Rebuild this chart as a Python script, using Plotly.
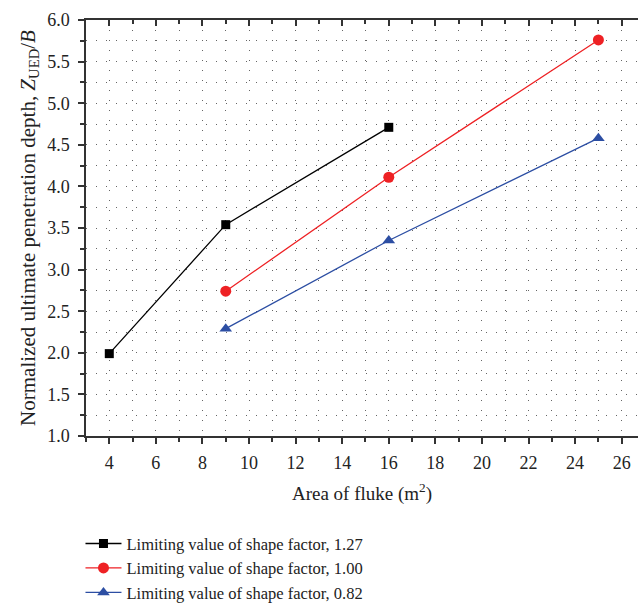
import plotly.graph_objects as go

x_127 = [4, 9, 16]
y_127 = [1.99, 3.54, 4.71]
x_100 = [9, 16, 25]
y_100 = [2.74, 4.11, 5.76]
x_082 = [9, 16, 25]
y_082 = [2.29, 3.35, 4.58]
names = ["Limiting value of shape factor, 1.27",
         "Limiting value of shape factor, 1.00",
         "Limiting value of shape factor, 0.82"]

FONT = "Liberation Serif"
fig = go.Figure()
fig.add_trace(go.Scatter(x=x_127, y=y_127, name=names[0], mode="lines+markers",
                         line=dict(color="black", width=1.3),
                         marker=dict(symbol="square", size=9, color="black")))
fig.add_trace(go.Scatter(x=x_100, y=y_100, name=names[1], mode="lines+markers",
                         line=dict(color="#ee2124", width=1.3),
                         marker=dict(symbol="circle", size=11, color="#ee2124")))
fig.add_trace(go.Scatter(x=x_082, y=y_082, name=names[2], mode="lines+markers",
                         line=dict(color="#2c4ea3", width=1.3),
                         marker=dict(symbol="triangle-up", size=11, color="#2c4ea3")))
# invisible trace to activate top axis
fig.add_trace(go.Scatter(x=[3], y=[1], xaxis="x2", showlegend=False, mode="markers",
                         marker=dict(opacity=0), hoverinfo="skip"))

grid = dict(gridcolor="#666666", gridwidth=1, griddash="1px,9px")
fig.update_layout(
    width=638, height=607,
    margin=dict(l=86, r=0, t=20, b=171, autoexpand=False),
    paper_bgcolor="white", plot_bgcolor="white",
    font=dict(family=FONT, size=18, color="#222222"),
    xaxis=dict(range=[3, 26.7], dtick=2, tick0=0, ticks="outside", ticklen=6,
               tickwidth=1.5, tickcolor="#333", showline=True, linecolor="#333", linewidth=1.5,
               showgrid=True, **grid, tickfont=dict(size=18), ticklabelstandoff=4,
               minor=dict(dtick=1, ticks="outside", ticklen=4, tickcolor="#333", showgrid=True, **grid),
               title=dict(text="Area of fluke (m<sup>2</sup>)", font=dict(size=19), standoff=14),
               zeroline=False),
    xaxis2=dict(range=[3, 26.7], overlaying="x", side="top", dtick=2, tick0=0,
                ticks="inside", ticklen=6, tickwidth=1.5, tickcolor="#333",
                showline=True, linecolor="#333", linewidth=1.5, showticklabels=False,
                showgrid=False, zeroline=False,
                minor=dict(dtick=1, ticks="inside", ticklen=4, tickcolor="#333")),
    yaxis=dict(range=[1, 6], dtick=0.5, tick0=0, tickformat=".1f", ticks="outside", ticklen=6,
               tickwidth=1.5, tickcolor="#333", showline=True, linecolor="#333", linewidth=1.5,
               showgrid=True, **grid, tickfont=dict(size=18), ticklabelstandoff=5,
               minor=dict(dtick=0.25, ticks="outside", ticklen=4, tickcolor="#333", showgrid=True, **grid),
               title=dict(text="Normalized ultimate penetration depth, <i>Z</i><sub>UED</sub>/<i>B</i>",
                          font=dict(size=21), standoff=6),
               zeroline=False),
    legend=dict(x=-0.01, xanchor="left", yref="container", y=0.133, yanchor="top",
                font=dict(size=16.5), bgcolor="rgba(0,0,0,0)", tracegroupgap=0, itemwidth=36),
    showlegend=True,
)
fig.write_html("out.html")
